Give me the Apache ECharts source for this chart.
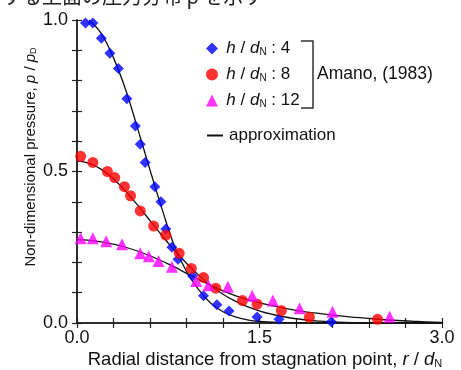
<!DOCTYPE html>
<html>
<head>
<meta charset="utf-8">
<script src="https://cdn.jsdelivr.net/npm/echarts@6/dist/echarts.min.js"></script>
<style>
  html, body { margin: 0; padding: 0; background: #fff; }
  #chart { width: 461px; height: 370px; }
</style>
</head>
<body>
<div id="chart"></div>
<script>
// measured points, Amano (1983)
const blueX = [0.07, 0.13, 0.2, 0.27, 0.34, 0.41, 0.48, 0.52, 0.56, 0.64, 0.69, 0.73, 0.78, 0.83, 0.95, 1.04, 1.15, 1.25, 1.48, 1.66, 2.09];
const blueY = [0.99, 0.99, 0.94, 0.89, 0.84, 0.74, 0.65, 0.59, 0.53, 0.45, 0.40, 0.31, 0.25, 0.21, 0.155, 0.09, 0.06, 0.04, 0.02, 0.012, 0.004];
const redX = [0.03, 0.13, 0.25, 0.31, 0.39, 0.44, 0.52, 0.63, 0.73, 0.84, 0.94, 1.04, 1.14, 1.36, 1.48, 1.68, 1.91, 2.47];
const redY = [0.55, 0.53, 0.50, 0.48, 0.45, 0.42, 0.37, 0.32, 0.29, 0.23, 0.18, 0.15, 0.115, 0.074, 0.062, 0.041, 0.019, 0.012];
const magX = [0.03, 0.13, 0.24, 0.37, 0.52, 0.59, 0.67, 0.78, 0.98, 1.08, 1.24, 1.44, 1.61, 1.83, 2.1, 2.57];
const magY = [0.28, 0.28, 0.27, 0.26, 0.23, 0.22, 0.205, 0.186, 0.139, 0.125, 0.12, 0.09, 0.074, 0.049, 0.037, 0.021];

// approximation curves
const blueCurveX = [0.1, 0.2, 0.3, 0.4, 0.5, 0.6, 0.7, 0.8, 0.9, 1.0, 1.1, 1.2, 1.3, 1.4, 1.5, 1.7, 2.0, 2.4, 3.0];
const blueCurveY = [1.0, 0.955, 0.875, 0.77, 0.64, 0.505, 0.375, 0.255, 0.17, 0.11, 0.065, 0.037, 0.02, 0.01, 0.005, 0.001, 0, 0, 0];
const redCurveX = [0, 0.1, 0.2, 0.3, 0.4, 0.5, 0.6, 0.7, 0.8, 0.9, 1.0, 1.1, 1.2, 1.3, 1.4, 1.5, 1.6, 1.8, 2.0, 2.2, 2.5, 3.0];
const redCurveY = [0.535, 0.527, 0.507, 0.475, 0.435, 0.388, 0.338, 0.288, 0.24, 0.197, 0.158, 0.124, 0.095, 0.072, 0.054, 0.04, 0.029, 0.014, 0.006, 0.002, 0, 0];
const magCurveX = [0, 0.2, 0.4, 0.6, 0.8, 0.9, 1.0, 1.1, 1.2, 1.3, 1.4, 1.6, 1.8, 2.0, 2.2, 2.4, 2.6, 2.8, 3.0];
const magCurveY = [0.275, 0.268, 0.25, 0.222, 0.185, 0.164, 0.144, 0.124, 0.106, 0.09, 0.077, 0.057, 0.042, 0.031, 0.022, 0.015, 0.009, 0.005, 0.002];

const ratios = ['4', '8', '12'];
const xTickLabels = ['0.0', '1.5', '3.0'];
const yTickLabels = ['0.0', '0.5', '1.0'];

const zip = (xs, ys) => xs.map((x, i) => [x, ys[i]]);
const font = 'Liberation Sans, Arial, sans-serif';
const axisColor = '#222';

function pickLabel(labels) {
  return function (v) {
    const hit = labels.find(l => Math.abs(parseFloat(l) - v) < 1e-6);
    return hit || '';
  };
}

const chart = echarts.init(document.getElementById('chart'));

const names = ratios.map(r => 'h / dN : ' + r);
const richText = {
  i: { fontStyle: 'italic', fontSize: 17, fontFamily: font, color: '#111' },
  n: { fontSize: 17, fontFamily: font, color: '#111' },
  s: { fontSize: 10, fontFamily: font, color: '#111', padding: [7, 0, 0, 0] }
};

const scatterBase = {
  type: 'scatter',
  xAxisIndex: 0,
  yAxisIndex: 0,
  z: 5
};
const lineBase = {
  type: 'line',
  name: 'approximation',
  smooth: 0.4,
  symbol: 'none',
  lineStyle: { color: '#111', width: 1.3 },
  itemStyle: { color: '#111' },
  z: 3
};

chart.setOption({
  animation: false,
  grid: { left: 77, right: 19, top: 20, bottom: 47 },
  legend: [
    {
      orient: 'vertical',
      left: 201,
      top: 35,
      itemWidth: 12,
      itemHeight: 12,
      itemGap: 9,
      data: names,
      formatter: function (name) {
        const r = name.split(': ')[1];
        return ' {i|h}{n| / }{i|d}{s|N}{n| : ' + r + '}';
      },
      textStyle: { rich: richText }
    },
    {
      orient: 'vertical',
      left: 202,
      top: 122,
      itemWidth: 16,
      itemHeight: 2,
      data: [{ name: 'approximation', icon: 'rect' }],
      textStyle: { fontSize: 17, fontFamily: font, color: '#111', padding: [0, 0, 0, 1] }
    }
  ],
  xAxis: [
    {
      type: 'value', min: 0, max: 3, interval: 0.3,
      axisLine: { lineStyle: { color: axisColor, width: 1.5 } },
      axisTick: { inside: true, length: 5, lineStyle: { color: axisColor, width: 1.2 } },
      axisLabel: { formatter: pickLabel(xTickLabels), fontSize: 18, fontFamily: font, color: '#111', margin: 6 },
      splitLine: { show: false }
    },
    {
      type: 'value', min: 0, max: 3, interval: 0.3, position: 'top',
      axisLine: { lineStyle: { color: axisColor, width: 1.5 } },
      axisTick: { inside: true, length: 5, lineStyle: { color: axisColor, width: 1.2 } },
      axisLabel: { show: false },
      splitLine: { show: false }
    }
  ],
  yAxis: [
    {
      type: 'value', min: 0, max: 1, interval: 0.1,
      axisLine: { show: true, lineStyle: { color: axisColor, width: 1.5 } },
      axisTick: { show: true, inside: true, length: 5, lineStyle: { color: axisColor, width: 1.2 } },
      axisLabel: { formatter: pickLabel(yTickLabels), fontSize: 18, fontFamily: font, color: '#111', margin: 9 },
      splitLine: { show: false }
    },
    {
      type: 'value', min: 0, max: 1, interval: 0.1, position: 'right',
      axisLine: { show: true, lineStyle: { color: axisColor, width: 1.5 } },
      axisTick: { show: true, inside: true, length: 5, lineStyle: { color: axisColor, width: 1.2 } },
      axisLabel: { show: false },
      splitLine: { show: false }
    }
  ],
  series: [
    Object.assign({}, scatterBase, {
      name: names[0], data: zip(blueX, blueY),
      symbol: 'diamond', symbolSize: 11, itemStyle: { color: '#0000ff' }
    }),
    Object.assign({}, scatterBase, {
      name: names[1], data: zip(redX, redY),
      symbol: 'circle', symbolSize: 11, itemStyle: { color: '#ff0000' }
    }),
    Object.assign({}, scatterBase, {
      name: names[2], data: zip(magX, magY),
      symbol: 'triangle', symbolSize: 12, itemStyle: { color: '#ff00ff' }
    }),
    Object.assign({}, lineBase, { data: zip(blueCurveX, blueCurveY) }),
    Object.assign({}, lineBase, { data: zip(redCurveX, redCurveY) }),
    Object.assign({}, lineBase, { data: zip(magCurveX, magCurveY) })
  ],
  graphic: [
    {
      type: 'text', left: 2, top: -14,
      style: { text: 'する上面の圧力分布 p を示す', fontSize: 20, fontFamily: 'Noto Sans CJK JP', fill: '#222' }
    },
    {
      type: 'polyline',
      shape: { points: [[301, 41], [313, 41], [313, 108], [301, 108]] },
      style: { stroke: '#333', lineWidth: 1.5, fill: null }
    },
    {
      type: 'text', x: 317, y: 74,
      style: { text: 'Amano, (1983)', fontSize: 17.5, fontFamily: font, fill: '#111', verticalAlign: 'middle' }
    },
    {
      type: 'text', x: 31, y: 157, rotation: Math.PI / 2,
      style: {
        text: '{n|Non-dimensional pressure, }{i|p}{n| / }{i|p}{s|D}',
        align: 'center', verticalAlign: 'middle',
        rich: {
          n: { fontSize: 15, fontFamily: font, fill: '#111' },
          i: { fontSize: 15, fontFamily: font, fontStyle: 'italic', fill: '#111' },
          s: { fontSize: 9, fontFamily: font, fill: '#111', padding: [6, 0, 0, 0] }
        }
      }
    },
    {
      type: 'text', x: 265, y: 360,
      style: {
        text: '{n|Radial distance from stagnation point, }{i|r}{n| / }{i|d}{s|N}',
        align: 'center', verticalAlign: 'middle',
        rich: {
          n: { fontSize: 18.5, fontFamily: font, fill: '#111' },
          i: { fontSize: 18.5, fontFamily: font, fontStyle: 'italic', fill: '#111' },
          s: { fontSize: 11, fontFamily: font, fill: '#111', padding: [7, 0, 0, 0] }
        }
      }
    }
  ]
});
</script>
</body>
</html>
